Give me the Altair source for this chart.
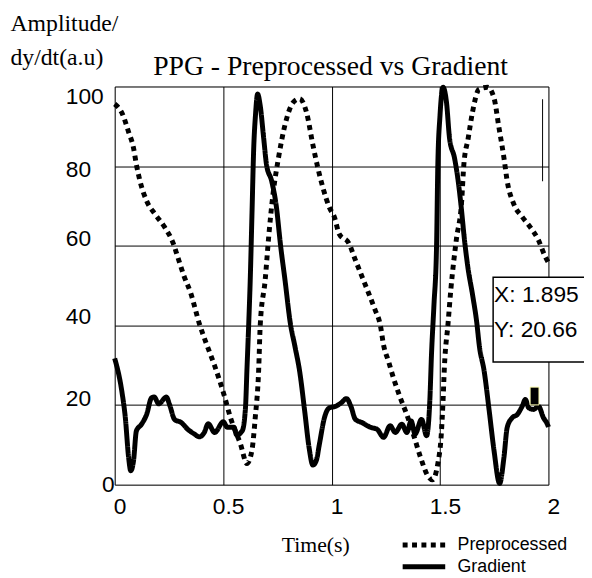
import altair as alt
import pandas as pd

# ---- data ----
series_names = ["Preprocessed", "Gradient"]

pre_x = [0.0, 0.033, 0.064, 0.087, 0.10, 0.117, 0.147, 0.185, 0.23, 0.27, 0.29, 0.32, 0.35, 0.39,
         0.42, 0.46, 0.504, 0.534, 0.58, 0.61, 0.633, 0.648, 0.664, 0.671, 0.694, 0.71, 0.73, 0.755,
         0.785, 0.823, 0.853, 0.884, 0.914, 0.937, 0.96, 0.99, 1.013, 1.035, 1.08, 1.11, 1.14, 1.17,
         1.2, 1.225, 1.24, 1.263, 1.286, 1.317, 1.347, 1.377, 1.41, 1.446, 1.465, 1.49, 1.506, 1.514,
         1.52, 1.537, 1.55, 1.575, 1.6, 1.61, 1.63, 1.65, 1.68, 1.72, 1.75, 1.77, 1.795, 1.81, 1.84,
         1.88, 1.916, 1.954, 1.985, 2.0]
pre_y = [95.6, 93.4, 88.6, 84.5, 80.4, 76.2, 71.3, 68.0, 64.7, 60.6, 57.3, 52.3, 48.2, 40.5,
         35.8, 30.0, 22.6, 16.8, 10.2, 5.3, 8.7, 16.8, 29.0, 40.0, 51.5, 62.2, 73.0, 82.0,
         90.3, 96.0, 96.9, 93.6, 85.3, 79.5, 74.6, 69.6, 67.2, 63.0, 60.6, 56.4, 52.3, 48.2,
         44.0, 40.0, 35.0, 30.9, 26.7, 21.8, 17.6, 12.7, 6.9, 2.0, 1.2, 5.3, 12.7, 21.0,
         29.2, 40.4, 49.0, 61.4, 71.3, 80.4, 87.0, 93.6, 99.3, 99.8, 96.9, 90.3, 82.0, 76.2, 70.5,
         67.2, 64.7, 61.4, 57.3, 55.8]

grad_x = [0.0, 0.033, 0.049, 0.064, 0.074, 0.087, 0.10, 0.124, 0.147, 0.17, 0.182, 0.203, 0.238,
          0.253, 0.276, 0.307, 0.337, 0.368, 0.39, 0.413, 0.431, 0.461, 0.501, 0.519, 0.55, 0.562,
          0.588, 0.603, 0.61, 0.618, 0.625, 0.633, 0.641, 0.649, 0.659, 0.671, 0.687, 0.70, 0.724,
          0.745, 0.765, 0.785, 0.81, 0.83, 0.853, 0.876, 0.896, 0.914, 0.93, 0.944, 0.967, 0.99,
          1.02, 1.043, 1.069, 1.089, 1.11, 1.14, 1.18, 1.21, 1.24, 1.27, 1.294, 1.324, 1.347, 1.367,
          1.385, 1.415, 1.438, 1.453, 1.461, 1.472, 1.484, 1.49, 1.50, 1.514, 1.53, 1.544,
          1.567, 1.582, 1.598, 1.613, 1.628, 1.651, 1.67, 1.681, 1.704, 1.727, 1.749, 1.775, 1.795,
          1.81, 1.833, 1.856, 1.879, 1.894, 1.909, 1.932, 1.954, 1.977, 1.995, 2.0]
grad_y = [31.7, 23.4, 16.8, 6.9, 3.5, 6.1, 13.5, 15.2, 17.6, 21.8, 22.0, 20.3, 22.0,
          20.1, 16.4, 15.6, 13.9, 12.7, 12.0, 13.1, 15.3, 13.1, 15.8, 14.4, 14.4, 12.5,
          13.5, 19.3, 29.2, 40.4, 51.5, 68.0, 84.5, 92.7, 98.1, 95.2, 87.0, 80.4, 76.2,
          70.0, 60.0, 51.5, 40.5, 35.0, 28.4, 18.5, 9.4, 4.9, 6.1, 10.2, 16.8, 19.3,
          19.7, 20.5, 21.6, 19.7, 16.4, 15.6, 14.4, 13.9, 11.9, 14.8, 13.1, 15.2, 13.1, 16.0,
          12.7, 16.4, 12.3, 21.0, 33.0, 45.0, 59.7, 80.4, 92.7, 99.8, 96.0, 87.0,
          82.0, 77.0, 69.6, 61.4, 54.8, 47.4, 40.5, 35.0, 28.4, 18.5, 8.6, 0.3, 6.9,
          14.4, 16.8, 17.6, 19.7, 21.4, 19.3, 18.9, 19.7, 16.8, 15.2, 14.5]

x_ticks = [0, 0.5, 1, 1.5, 2]
y_ticks = [0, 20, 40, 60, 80, 100]

# datatip annotation
tip_x, tip_y = 1.895, 20.66
tip_labels = ["X: 1.895", "Y: 20.66"]
tip_box = {"x0": 1.745, "x1": 2.23, "y0": 30.8, "y1": 52.1}
tip_text_y = [45.9, 37.2]
# thin vertical artifact line near the right edge
cursor_x, cursor_y0, cursor_y1 = 1.973, 76.2, 96.8

# ---- tables ----
df = pd.concat([
    pd.DataFrame({"x": pre_x, "y": pre_y, "series": series_names[0]}),
    pd.DataFrame({"x": grad_x, "y": grad_y, "series": series_names[1]}),
], ignore_index=True)
df["order"] = range(len(df))

SANS = "Liberation Sans"
SERIF = "Liberation Serif"

x_scale = alt.Scale(domain=[0, 2], nice=False, zero=False)
y_scale = alt.Scale(domain=[0, 100], nice=False)

y_label_offset = {
    "condition": [
        {"test": "datum.value === 100", "value": 10},
        {"test": "datum.value === 80", "value": 3},
        {"test": "datum.value === 60", "value": -7},
        {"test": "datum.value === 40", "value": -9},
        {"test": "datum.value === 20", "value": -7},
    ],
    "value": 0,
}

x_axis = alt.Axis(values=x_ticks, format="~g", labelFlush=False, labelOffset=5,
                  labelPadding=11, labelFont=SANS, labelFontSize=23, labelColor="black",
                  ticks=False, domain=False, grid=True, gridColor="#000", gridWidth=1,
                  title="Time(s)", titleFont=SERIF, titleFontSize=22, titleFontWeight="normal",
                  titleColor="black", titleX=203, titleY=68, titleAlign="center",
                  titleBaseline="alphabetic")

y_axis = alt.Axis(values=y_ticks, labelAlign="left", labelPadding=50, labelFont=SANS,
                  labelFontSize=23, labelColor="black", labelOffset=y_label_offset,
                  labelExpr="datum.value == 0 ? '' : datum.label", labelOverlap=False,
                  ticks=False, domain=False, grid=True, gridColor="#000", gridWidth=1,
                  title=["Amplitude/", "dy/dt(a.u)"], titleAngle=0, titleAlign="left",
                  titleBaseline="alphabetic", titleX=-106, titleY=-57, titleFont=SERIF,
                  titleFontSize=24, titleFontWeight="normal", titleLineHeight=35,
                  titleColor="black")

lines = alt.Chart(df).mark_line(color="black", strokeWidth=5, interpolate="monotone",
                                strokeCap="butt").encode(
    x=alt.X("x:Q", scale=x_scale, axis=x_axis),
    y=alt.Y("y:Q", scale=y_scale, axis=y_axis),
    strokeDash=alt.StrokeDash(
        "series:N",
        scale=alt.Scale(domain=series_names, range=[[5, 4.5], [1, 0]]),
        legend=alt.Legend(title=None, orient="none", legendX=304, legendY=455,
                          symbolType="M-4,0H4", symbolSize=116, symbolStrokeWidth=5,
                          symbolStrokeColor="black", symbolFillColor="transparent",
                          labelFont=SANS, labelFontSize=18, labelColor="black",
                          labelOffset=25, rowPadding=2, padding=0),
    ),
    order="order:Q",
)

zero_df = pd.DataFrame({"x": [x_ticks[0]], "y": [y_ticks[0]], "t": [str(y_ticks[0])]})
zero_label = alt.Chart(zero_df).mark_text(font=SANS, fontSize=23, align="right",
                                          baseline="middle", color="black").encode(
    x=alt.X("x:Q", scale=x_scale), y=alt.Y("y:Q", scale=y_scale), text="t:N")

cursor_df = pd.DataFrame({"x": [cursor_x], "y": [cursor_y0], "y2": [cursor_y1]})
cursor = alt.Chart(cursor_df).mark_rule(color="black", strokeWidth=1).encode(
    x=alt.X("x:Q", scale=x_scale), y=alt.Y("y:Q", scale=y_scale), y2="y2:Q")

box_df = pd.DataFrame([tip_box])
box = alt.Chart(box_df).mark_rect(fill="white", stroke="black", strokeWidth=1.5,
                                  clip=False).encode(
    x=alt.X("x0:Q", scale=x_scale), x2="x1:Q",
    y=alt.Y("y0:Q", scale=y_scale), y2="y1:Q")

tip_df = pd.DataFrame({"x": [tip_box["x0"]] * 2, "y": tip_text_y, "t": tip_labels})
tip_text = alt.Chart(tip_df).mark_text(font=SANS, fontSize=23, align="left",
                                       baseline="alphabetic", dx=1, color="black").encode(
    x=alt.X("x:Q", scale=x_scale), y=alt.Y("y:Q", scale=y_scale), text="t:N")

marker_df = pd.DataFrame({"x": [tip_x], "y": [tip_y]})
marker = alt.Chart(marker_df).mark_point(shape="M0.5,-1.72H1.5V0.28H0.5Z", size=324,
                                         filled=True, fill="black", stroke="#ffffb0",
                                         strokeWidth=1, opacity=1).encode(
    x=alt.X("x:Q", scale=x_scale), y=alt.Y("y:Q", scale=y_scale))

chart = alt.layer(lines, cursor, box, tip_text, marker, zero_label).properties(
    width=439, height=403,
    autosize=alt.AutoSizeParams(type="none"),
    padding={"left": 108, "top": 76, "right": 36, "bottom": 90},
    title=alt.TitleParams(text="PPG - Preprocessed vs Gradient", font=SERIF, fontSize=28,
                          fontWeight="normal", anchor="middle", frame="group",
                          baseline="alphabetic", offset=-92, dx=-1, color="black"),
).configure_view(stroke="black", strokeWidth=1.5).configure(background="white")

chart.save("out.html", embed_options={"renderer": "svg", "actions": False})
